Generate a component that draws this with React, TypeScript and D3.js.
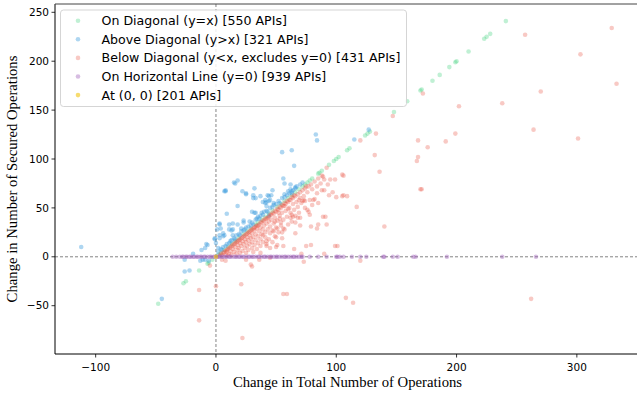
import React from "react";
import * as d3 from "d3";

// values
const onDiagonal: [number, number][] = [
  [-48, -48], [-27, -27], [-25, -25], [-14, -14], [-7, -7], [-6, -6], [-3, -3], [2, 2], [4, 4], [7, 7],
  [10, 10], [13, 13], [16, 16], [19, 19], [23, 23], [26, 26], [29, 29], [33, 33], [35, 35], [38, 38],
  [41, 41], [44, 44], [47, 47], [51, 51], [54, 54], [57, 57], [60, 60], [63, 63], [66, 66], [69, 69],
  [72, 72], [74, 74], [76, 76], [78, 78], [80, 80], [85, 85], [86, 86], [88, 88], [94, 94], [98, 98],
  [100, 100], [102, 102], [109, 109], [111, 111], [124, 124], [126, 126], [128, 128], [148, 148],
  [159, 159], [170, 170], [171, 171], [180, 180], [186, 186], [194, 194], [199, 199], [200, 200],
  [210, 210], [223, 223], [225, 225], [228, 228], [241, 241],
];

const aboveDiagonal: [number, number][] = [
  [-112, 10], [-45, -43], [-26, -15], [-22, -14], [-26, -3], [-19, 3], [-13, -4], [-11, -3], [-9, -3],
  [-6, -4], [-12, 7], [-9, 9], [-7, 12], [-8, 13], [-1, 19], [-1, 18], [0, 14], [2, 9], [3, 22], [3, 19],
  [1, 28], [3, 33], [4, 29], [6, 24], [6, 21], [7, 22], [3, 34], [9, 44], [11, 33], [11, 28], [13, 27],
  [14, 28], [14, 22], [14, 34], [18, 33], [18, 52], [21, 29], [23, 35], [23, 37], [28, 36], [18, 78],
  [15, 76], [16, 75], [8, 68], [8, 67], [7, 67], [22, 67], [25, 65], [25, 64], [31, 63], [32, 70],
  [31, 60], [33, 60], [30, 46], [33, 45], [35, 41], [32, 45], [38, 45], [44, 42], [41, 55], [48, 55],
  [42, 52], [47, 68], [46, 63], [44, 62], [41, 58], [44, 57], [39, 56], [37, 62], [43, 63], [45, 58],
  [42, 56], [56, 80], [57, 75], [62, 74], [66, 70], [63, 67], [55, 107], [63, 109], [65, 93], [62, 69],
  [66, 71], [60, 67], [63, 65], [57, 64], [83, 125], [84, 119], [115, 120], [127, 130],
  [2, 5], [4, 8], [5, 7], [6, 10], [8, 11], [9, 13], [11, 14], [12, 16], [13, 17], [15, 19], [16, 18],
  [17, 22], [19, 23], [20, 22], [21, 26], [23, 27], [24, 28], [25, 30], [27, 31], [29, 32], [30, 35],
  [31, 33], [33, 38], [34, 39], [36, 39], [37, 42], [39, 43], [40, 46], [42, 47], [43, 46], [45, 50],
  [47, 51], [48, 53], [50, 54], [52, 57], [53, 55], [55, 60], [57, 61], [59, 63], [61, 65], [64, 68],
  [67, 72], [70, 74], [72, 76],
];

const belowDiagonal: [number, number][] = [
  [-14, -34], [-14, -65], [0, -30], [21, -28], [22, -83], [56, -38], [59, -38], [108, -42], [114, -47],
  [262, -43], [-5, -9], [5, -3], [8, -4], [25, -3], [29, -8], [30, -10], [36, -3], [45, -1], [73, -5],
  [120, -4], [37, 4], [71, 3], [90, 3], [79, 12], [101, 11],
  [257, 227], [329, 234], [303, 207], [333, 177], [270, 169], [172, 167], [238, 157], [202, 154],
  [147, 144], [264, 130], [301, 121], [168, 119], [199, 126], [191, 118], [176, 112], [168, 102],
  [167, 98], [136, 87], [170, 69], [171, 69], [140, 31], [133, 126], [120, 119], [132, 104], [117, 51],
  [106, 83], [99, 79], [92, 91], [88, 83], [93, 74], [84, 65], [97, 66], [106, 63], [75, 72],
  [89, 82], [90, 79], [90, 68], [100, 61], [94, 63], [69, 58], [72, 57], [74, 57], [82, 59], [85, 55],
  [76, 48], [77, 46], [78, 43], [91, 41], [70, 40], [66, 35], [85, 33], [92, 33], [79, 31], [70, 32],
  [57, 52], [60, 49], [63, 43], [62, 40], [52, 45], [53, 39], [54, 35], [56, 29], [55, 25], [66, 24],
  [50, 20], [65, 8], [50, 10], [95, 79], [105, 84], [109, 62], [105, 62], [88, 68], [81, 58], [80, 53],
  [73, 58], [64, 41], [68, 40], [84, 29], [89, 41], [75, 11], [99, 11], [56, 11], [42, 11], [45, 9],
  [51, 12], [42, 16], [39, 22], [48, 26], [51, 29], [49, 36],
  [3, 1], [5, 2], [6, 4], [8, 2], [8, 6], [9, 5], [10, 1], [10, 8], [11, 3], [12, 6], [12, 10], [13, 2],
  [14, 8], [14, 12], [15, 5], [16, 10], [16, 14], [17, 3], [18, 7], [18, 12], [18, 16], [19, 9], [20, 4],
  [20, 14], [20, 18], [21, 11], [22, 6], [22, 16], [22, 20], [23, 13], [24, 9], [24, 18], [24, 22],
  [25, 4], [25, 15], [26, 11], [26, 20], [26, 24], [27, 7], [27, 17], [28, 13], [28, 22], [28, 26],
  [29, 19], [30, 9], [30, 15], [30, 24], [30, 28], [31, 5], [31, 20], [32, 12], [32, 27], [32, 30],
  [33, 17], [33, 23], [34, 8], [34, 29], [34, 32], [35, 14], [35, 21], [36, 26], [36, 33], [37, 11],
  [37, 18], [37, 30], [38, 23], [38, 35], [39, 15], [39, 28], [40, 32], [40, 37], [41, 20], [41, 25],
  [42, 13], [42, 34], [42, 39], [43, 28], [44, 18], [44, 36], [44, 41], [45, 24], [45, 31], [46, 38],
  [46, 43], [47, 15], [47, 27], [48, 34], [48, 44], [49, 21], [49, 40], [50, 30], [50, 46], [51, 37],
  [52, 25], [52, 48], [53, 42], [54, 32], [54, 50], [55, 19], [55, 45], [56, 38], [56, 52], [57, 28],
  [58, 47], [58, 54], [59, 41], [60, 33], [60, 56], [61, 50], [62, 45], [62, 58], [63, 36], [64, 54],
  [64, 60], [65, 48], [66, 42], [66, 62], [67, 56], [68, 51], [68, 64], [69, 45], [70, 60], [70, 66],
  [71, 55], [72, 68], [73, 62], [74, 50], [74, 70], [76, 66], [77, 72], [78, 58], [79, 74], [80, 69],
  [82, 77], [84, 72], [85, 80], [87, 75],
  [4, 3], [7, 5], [9, 7], [11, 9], [13, 11], [15, 13], [17, 15], [19, 17], [21, 19], [23, 21], [25, 23],
  [27, 25], [29, 27], [31, 29], [33, 31], [35, 32], [37, 35], [39, 37], [41, 39], [43, 40], [45, 43],
  [47, 45], [49, 47], [51, 49], [53, 51], [55, 53], [57, 55], [59, 57], [61, 58], [63, 61], [65, 63],
];

const horizontalX: number[] = [
  -36, -33, -30, -28, -27, -25, -24, -22, -21, -19, -18, -16, -15, -13, -12, -10, -9, -7, -5, -4, -2, -1,
  1, 2, 3, 5, 6, 8, 9, 11, 12, 14, 16, 17, 19, 20, 22, 23, 25, 27, 28, 30, 31, 33, 35, 36, 38, 40, 41,
  43, 45, 46, 48, 50, 51, 53, 55, 57, 58, 60, 62, 64, 65, 67, 69, 71, 72, 78, 85, 92, 100, 101, 103,
  106, 113, 120, 125, 139, 140, 147, 151, 164, 166, 192, 238, 266,
];

const atOrigin: [number, number][] = [[0, 0]];

const xTicks = [-100, 0, 100, 200, 300];
const yTicks = [-50, 0, 50, 100, 150, 200, 250];

const legendLabels = [
  "On Diagonal (y=x) [550 APIs]",
  "Above Diagonal (y>x) [321 APIs]",
  "Below Diagonal (y<x, excludes y=0) [431 APIs]",
  "On Horizontal Line (y=0) [939 APIs]",
  "At (0, 0) [201 APIs]",
];
const colors = ["#2ecc71", "#3498db", "#e74c3c", "#9b59b6", "#f1c40f"];
const opacities = [0.3, 0.4, 0.3, 0.4, 0.6];

const W = 637;
const H = 394;
const left = 55;
const right = 640;
const top = 4;
const bottom = 354;

const fmt = (v: number) => (v < 0 ? "\u2212" + Math.abs(v) : String(v));

export default function App() {
  const x = d3.scaleLinear().domain([-133.8, 352.5]).range([left, right]);
  const y = d3.scaleLinear().domain([-99.4, 258.5]).range([bottom, top]);

  const series: [number, number][][] = [
    onDiagonal,
    aboveDiagonal,
    belowDiagonal,
    horizontalX.map((v) => [v, 0] as [number, number]),
    atOrigin,
  ];

  const tickFont = "DejaVu Sans";
  const r = 2.3;

  return (
    <svg
      width={W}
      height={H}
      style={{ position: "absolute", left: 0, top: 0, background: "white" }}
    >
      <defs>
        <clipPath id="plot">
          <rect x={left} y={top} width={right - left} height={bottom - top} />
        </clipPath>
      </defs>

      {/* reference lines */}
      <line x1={left} x2={right} y1={y(0)} y2={y(0)} stroke="#777" strokeWidth={0.9} strokeDasharray="3,2" />
      <line x1={x(0)} x2={x(0)} y1={top} y2={bottom} stroke="#777" strokeWidth={0.9} strokeDasharray="3,2" />

      <g clipPath="url(#plot)">
        {series.map((pts, i) => (
          <g key={i} fill={colors[i]} fillOpacity={opacities[i]}>
            {pts.map((d, j) => (
              <circle key={j} cx={x(d[0])} cy={y(d[1])} r={r} />
            ))}
          </g>
        ))}
      </g>

      {/* spines */}
      <line x1={left} x2={left} y1={top} y2={bottom} stroke="#000" strokeWidth={1} />
      <line x1={left} x2={right} y1={bottom} y2={bottom} stroke="#000" strokeWidth={1} />
      <line x1={left} x2={right} y1={top} y2={top} stroke="#444" strokeWidth={1} />

      {/* x axis */}
      {xTicks.map((t) => (
        <g key={t} transform={`translate(${x(t)},${bottom})`}>
          <line y2={3.5} stroke="#000" strokeWidth={0.8} />
          <text y={16.5} textAnchor="middle" fontFamily={tickFont} fontSize={10.5} fill="#000">
            {fmt(t)}
          </text>
        </g>
      ))}
      {/* y axis */}
      {yTicks.map((t) => (
        <g key={t} transform={`translate(${left},${y(t)})`}>
          <line x2={-3.5} stroke="#000" strokeWidth={0.8} />
          <text x={-6} dy="0.35em" textAnchor="end" fontFamily={tickFont} fontSize={10.5} fill="#000">
            {fmt(t)}
          </text>
        </g>
      ))}

      <text x={(left + right) / 2} y={387} textAnchor="middle" fontFamily="Liberation Serif" fontSize={14.7}>
        Change in Total Number of Operations
      </text>
      <text
        transform={`translate(17,${(top + bottom) / 2}) rotate(-90)`}
        textAnchor="middle"
        fontFamily="Liberation Serif"
        fontSize={14.7}
      >
        Change in Number of Secured Operations
      </text>

      {/* legend */}
      <g>
        <rect x={60.5} y={10} width={346} height={96.5} rx={3} fill="white" fillOpacity={0.85} stroke="#d0d0d0" strokeWidth={0.9} />
        {legendLabels.map((l, i) => (
          <g key={l} transform={`translate(78,${20.7 + i * 18.6})`}>
            <circle r={r} fill={colors[i]} fillOpacity={opacities[i]} />
            <text x={23.5} dy="0.35em" fontFamily={tickFont} fontSize={12.6} fill="#000">
              {l}
            </text>
          </g>
        ))}
      </g>
    </svg>
  );
}
